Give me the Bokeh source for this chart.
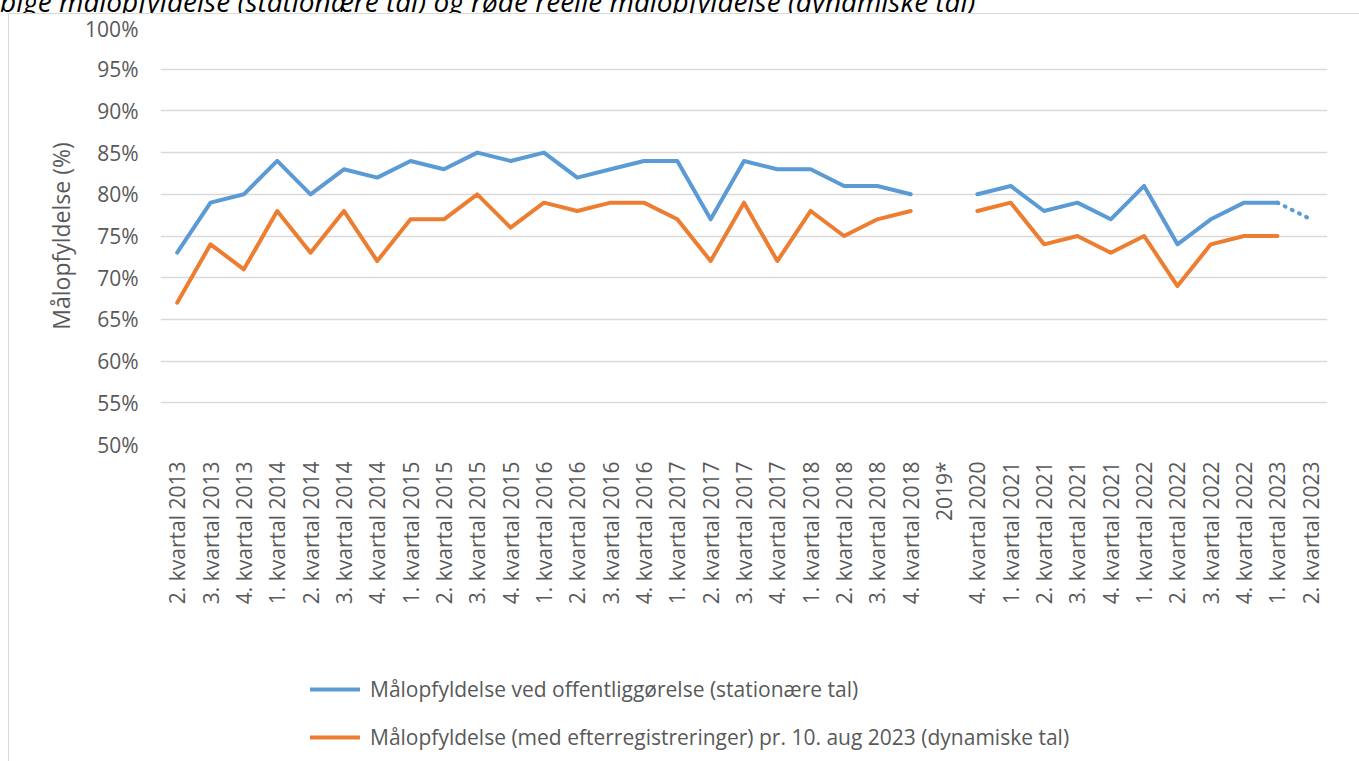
import math
from bokeh.plotting import figure
from bokeh.layouts import column
from bokeh.models import (FactorRange, ColumnDataSource, Legend, LegendItem, Div,
                          NumeralTickFormatter, FixedTicker)
from bokeh.embed import file_html
from bokeh.resources import INLINE

nan = float("nan")

categories = [
    "2. kvartal 2013", "3. kvartal 2013", "4. kvartal 2013",
    "1. kvartal 2014", "2. kvartal 2014", "3. kvartal 2014", "4. kvartal 2014",
    "1. kvartal 2015", "2. kvartal 2015", "3. kvartal 2015", "4. kvartal 2015",
    "1. kvartal 2016", "2. kvartal 2016", "3. kvartal 2016", "4. kvartal 2016",
    "1. kvartal 2017", "2. kvartal 2017", "3. kvartal 2017", "4. kvartal 2017",
    "1. kvartal 2018", "2. kvartal 2018", "3. kvartal 2018", "4. kvartal 2018",
    "2019*",
    "4. kvartal 2020",
    "1. kvartal 2021", "2. kvartal 2021", "3. kvartal 2021", "4. kvartal 2021",
    "1. kvartal 2022", "2. kvartal 2022", "3. kvartal 2022", "4. kvartal 2022",
    "1. kvartal 2023", "2. kvartal 2023",
]

stationaere = [
    73, 79, 80,
    84, 80, 83, 82,
    84, 83, 85, 84,
    85, 82, 83, 84,
    84, 77, 84, 83,
    83, 81, 81, 80,
    nan,
    80,
    81, 78, 79, 77,
    81, 74, 77, 79,
    79, nan,
]

stationaere_foreloebig = [nan] * 33 + [79, 77]

dynamiske = [
    67, 74, 71,
    78, 73, 78, 72,
    77, 77, 80, 76,
    79, 78, 79, 79,
    77, 72, 79, 72,
    78, 75, 77, 78,
    nan,
    78,
    79, 74, 75, 73,
    75, 69, 74, 75,
    75, nan,
]

y_ticks = [0.50, 0.55, 0.60, 0.65, 0.70, 0.75, 0.80, 0.85, 0.90, 0.95, 1.00]

series_names = [
    "Målopfyldelse ved offentliggørelse (stationære tal)",
    "Målopfyldelse (med efterregistreringer) pr. 10. aug 2023 (dynamiske tal)",
]
caption = "bige målopfyldelse (stationære tal) og røde reelle målopfyldelse (dynamiske tal)"

FONT = "Open Sans"
TXT = "#595959"
GRID = "#d9d9d9"
BLUE = "#5B9BD5"
ORANGE = "#ED7D31"
LW = 4

src = ColumnDataSource(dict(
    x=categories,
    s=[v / 100 for v in stationaere],
    sf=[v / 100 for v in stationaere_foreloebig],
    d=[v / 100 for v in dynamiske],
))

# ---- main chart -------------------------------------------------------
p = figure(
    width=1350, height=646,
    x_range=FactorRange(*categories, range_padding=0),
    y_range=(0.50, 1.00),
    output_backend="svg", toolbar_location=None,
    min_border_left=151, min_border_right=32, min_border_top=13, min_border_bottom=216,
)
p.outline_line_color = None
p.background_fill_color = "white"
p.border_fill_color = "white"

p.xgrid.grid_line_color = None
p.ygrid.grid_line_color = GRID
p.ygrid.grid_line_width = 1.3
p.yaxis.ticker = FixedTicker(ticks=y_ticks)
p.yaxis.formatter = NumeralTickFormatter(format="0%")

for ax in (p.xaxis, p.yaxis):
    ax.axis_line_color = None
    ax.major_tick_line_color = None
    ax.minor_tick_line_color = None
    ax.major_tick_out = 0
    ax.major_tick_in = 0
    ax.major_label_text_font = FONT
    ax.major_label_text_color = TXT

p.yaxis.major_label_text_font_size = "21px"
p.yaxis.major_label_standoff = 22
p.yaxis.axis_label = "Målopfyldelse (%)"
p.yaxis.axis_label_text_font = FONT
p.yaxis.axis_label_text_font_style = "normal"
p.yaxis.axis_label_text_font_size = "23px"
p.yaxis.axis_label_text_color = TXT
p.yaxis.axis_label_standoff = 5

p.xaxis.major_label_orientation = math.pi / 2
p.xaxis.major_label_text_font_size = "21px"
p.xaxis.major_label_standoff = 17
p.xaxis.group_text_font_size = "0px"

p.line("x", "s", source=src, line_color=BLUE, line_width=LW, line_join="round", line_cap="round")
p.line("x", "sf", source=src, line_color=BLUE, line_width=LW, line_cap="round", line_dash="1 7")
p.line("x", "d", source=src, line_color=ORANGE, line_width=LW, line_join="round", line_cap="round")

# ---- legend strip -------------------------------------------------------
pl = figure(width=1350, height=101, x_range=(0, 1), y_range=(0, 1),
            output_backend="svg", toolbar_location=None,
            min_border=0, min_border_left=0, min_border_right=0,
            min_border_top=0, min_border_bottom=0)
pl.axis.visible = False
pl.grid.grid_line_color = None
pl.outline_line_color = None
lr1 = pl.line(x=[nan], y=[nan], line_color=BLUE, line_width=LW, line_cap="round")
lr2 = pl.line(x=[nan], y=[nan], line_color=ORANGE, line_width=LW, line_cap="round")

legend = Legend(
    items=[LegendItem(label=series_names[0], renderers=[lr1]),
           LegendItem(label=series_names[1], renderers=[lr2])],
    location=(150, 9),
    orientation="vertical",
    padding=0, margin=0, spacing=18,
    glyph_width=50, glyph_height=30, label_height=30,
    label_standoff=10,
    label_text_font=FONT, label_text_font_size="21px", label_text_color=TXT,
    border_line_color=None, background_fill_alpha=0,
)
pl.add_layout(legend, "center")

# ---- cropped caption above the chart box --------------------------------
cap = Div(
    text=('<div style="margin-top:-14px;font-family:\'Open Sans\';font-style:italic;'
          'font-size:28px;line-height:27px;color:#000;white-space:nowrap">'
          + caption + '</div>'),
    width=1359, height=13, margin=0,
    styles={"overflow": "hidden", "height": "13px", "max-height": "13px",
            "min-height": "13px"},
)

box = column(p, pl, spacing=0, margin=(0, 0, 0, 8),
             styles={"border-left": "1px solid #d9d9d9", "border-top": "1px solid #d9d9d9"})
page = column(cap, box, spacing=0)

open("out.html", "w").write(file_html(page, INLINE))
